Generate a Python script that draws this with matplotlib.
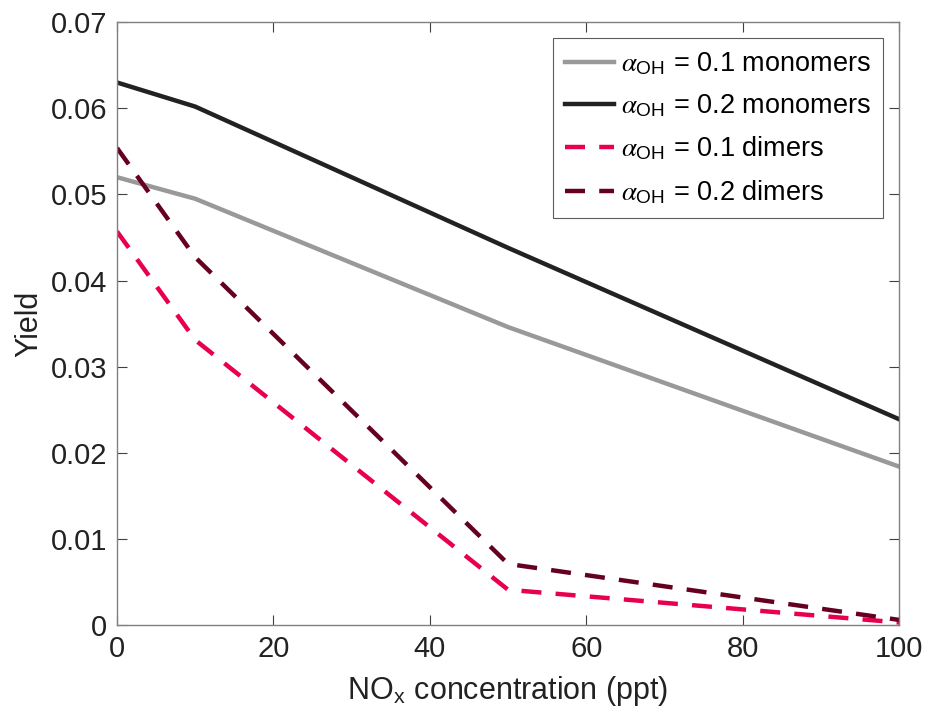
import matplotlib
matplotlib.use("Agg")
import matplotlib.pyplot as plt
from matplotlib.ticker import FuncFormatter

plt.rcParams['font.family'] = ['Liberation Sans', 'DejaVu Sans']
plt.rcParams['mathtext.fontset'] = 'custom'
plt.rcParams['mathtext.rm'] = 'Liberation Sans'
plt.rcParams['mathtext.sf'] = 'Liberation Sans'
plt.rcParams['mathtext.it'] = 'STIXGeneral:italic'

nox = [0, 10, 50, 100]
mono_01 = [0.0520, 0.0495, 0.0346, 0.0184]
mono_02 = [0.0630, 0.0602, 0.0438, 0.0239]
dimer_01 = [0.0457, 0.0331, 0.0041, 0.0003]
dimer_02 = [0.0554, 0.0427, 0.0071, 0.0006]

labels = [r'$\alpha_{\rm OH}$ = 0.1 monomers',
          r'$\alpha_{\rm OH}$ = 0.2 monomers',
          r'$\alpha_{\rm OH}$ = 0.1 dimers',
          r'$\alpha_{\rm OH}$ = 0.2 dimers']

fig = plt.figure(figsize=(9.25, 7.16), dpi=100)
ax = fig.add_axes([0.1265, 0.127, 0.8455, 0.842])

lw = 3.2
ax.plot(nox, mono_01, color='#999999', lw=lw, label=labels[0])
ax.plot(nox, mono_02, color='#222222', lw=lw, label=labels[1])
ax.plot(nox, dimer_01, color='#E8004F', lw=lw, ls=(0, (4.5, 3.2)), label=labels[2])
ax.plot(nox, dimer_02, color='#66001F', lw=lw, ls=(0, (4.5, 3.2)), label=labels[3])

ax.set_xlim(0, 100)
ax.set_ylim(0, 0.07)
ax.set_xticks(range(0, 101, 20))
ax.set_yticks([i / 100 for i in range(8)])
ax.yaxis.set_major_formatter(FuncFormatter(lambda v, p: '%g' % round(v, 4)))

for s in ax.spines.values():
    s.set_color('#808080')
    s.set_linewidth(1.0)
ax.tick_params(direction='in', length=7, width=0.8, color='#404040',
               labelsize=21, top=True, right=True, labelcolor='#222222', pad=7)

ax.set_xlabel(r'NO$_{\rm x}$ concentration (ppt)', fontsize=22, color='#222222',
              labelpad=8)
ax.set_ylabel('Yield', fontsize=22, color='#222222', labelpad=5)

leg = ax.legend(loc='upper right', fontsize=19.5, frameon=True, fancybox=False,
                edgecolor='#333333', handlelength=1.8, handletextpad=0.25,
                borderaxespad=0.6, labelspacing=0.58, borderpad=0.45)
leg.get_frame().set_linewidth(0.8)

fig.savefig('out.png', dpi=100)
